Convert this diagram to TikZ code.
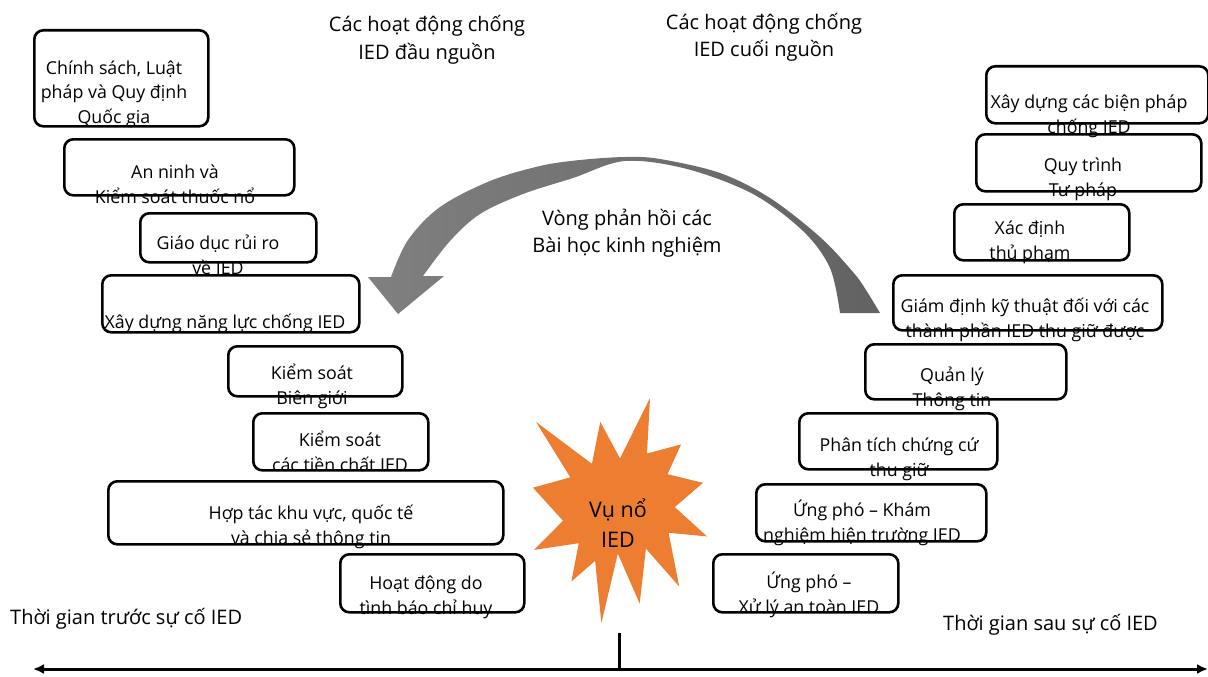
\documentclass[tikz,border=0pt]{standalone}
\usepackage{fontspec}
\setmainfont{Open Sans}
\usetikzlibrary{arrows.meta}
\definecolor{arrowlight}{RGB}{128,128,128}
\definecolor{arrowdark}{RGB}{98,98,98}
\definecolor{blast}{RGB}{237,125,49}
\begin{document}
\begin{tikzpicture}[x=1pt,y=-1pt,
  box/.style={draw=black, line width=2.6pt, rounded corners=9pt, inner sep=0pt, anchor=north west},
  boxtext/.style={font=\fontsize{17.8}{25}\selectfont, align=center, inner sep=0pt, anchor=base},
  titletext/.style={font=\fontsize{20}{27.5}\selectfont, align=center, inner sep=0pt, anchor=base},
  loopref/.style={font=\fontsize{20}{27}\selectfont, align=center, inner sep=0pt, anchor=base},
  axistext/.style={font=\fontsize{20}{24}\selectfont, inner sep=0pt, anchor=base west},
  axisline/.style={line width=3pt, {Latex[length=11pt,width=10pt]}-{Latex[length=11pt,width=10pt]}},
]
\useasboundingbox (0,0) rectangle (1208,677);
\fill[white] (0,0) rectangle (1208,677);

% titles (base anchor = last line baseline)
\node[titletext] (tup) at (427,59.5) {Các hoạt động chống\\IED đầu nguồn};
\node[titletext] (tdown) at (764,56.5) {Các hoạt động chống\\IED cuối nguồn};

% feedback loop arrow
\shade[left color=arrowlight, right color=arrowdark] plot[smooth, tension=0.55] coordinates {(880,313) (866,290) (853,272) (820,237) (770,198) (720,173) (660,159) (625,157) (580,160) (540,166) (490,181) (440,207) (408,240) (391,277)}
  -- (368,277) -- (398,314) -- (444,276) -- (423,276)
  -- plot[smooth, tension=0.55] coordinates {(423,276) (450,241) (480,214) (523,194) (573,178) (625,161) (687,169) (753,194) (803,231) (830,268) (840,313)}
  -- cycle;
\node[loopref] (loop) at (627,252) {Vòng phản hồi các\\Bài học kinh nghiệm};

% left (upstream) boxes
\node[box, minimum width=174, minimum height=96] (b1) at (33,29) {};
\node[boxtext] (t1) at (114,124) {Chính sách, Luật\\pháp và Quy định\\Quốc gia};
\node[box, minimum width=230, minimum height=56] (b2) at (63,138) {};
\node[boxtext] (t2) at (175,203) {An ninh và\\Kiểm soát thuốc nổ};
\node[box, minimum width=176, minimum height=49] (b3) at (139,212) {};
\node[boxtext] (t3) at (218,274) {Giáo dục rủi ro\\về IED};
\node[box, minimum width=257, minimum height=57] (b4) at (101,274) {};
\node[boxtext] (t4) at (225,328) {Xây dựng năng lực chống IED};
\node[box, minimum width=174, minimum height=50] (b5) at (227,345) {};
\node[boxtext] (t5) at (312,404) {Kiểm soát\\Biên giới};
\node[box, minimum width=175, minimum height=57] (b6) at (252,412) {};
\node[boxtext] (t6) at (340,471) {Kiểm soát\\các tiền chất IED};
\node[box, minimum width=395, minimum height=63] (b7) at (107,480) {};
\node[boxtext] (t7) at (311,544) {Hợp tác khu vực, quốc tế\\và chia sẻ thông tin};
\node[box, minimum width=184, minimum height=58] (b8) at (339,553) {};
\node[boxtext] (t8) at (426,614) {Hoạt động do\\tình báo chỉ huy};

% right (downstream) boxes
\node[box, minimum width=222, minimum height=57] (r1) at (985,65) {};
\node[boxtext] (s1) at (1089,133) {Xây dựng các biện pháp\\chống IED};
\node[box, minimum width=225, minimum height=57] (r2) at (975,133) {};
\node[boxtext] (s2) at (1083,196) {Quy trình\\Tư pháp};
\node[box, minimum width=175, minimum height=56] (r3) at (953,203) {};
\node[boxtext] (s3) at (1030,259) {Xác định\\thủ phạm};
\node[box, minimum width=269, minimum height=55] (r4) at (892,274) {};
\node[boxtext] (s4) at (1025,337) {Giám định kỹ thuật đối với các\\thành phần IED thu giữ được};
\node[box, minimum width=201, minimum height=55] (r5) at (864,343) {};
\node[boxtext] (s5) at (952,406) {Quản lý\\Thông tin};
\node[box, minimum width=198, minimum height=56] (r6) at (798,412) {};
\node[boxtext] (s6) at (899,476) {Phân tích chứng cứ\\thu giữ};
\node[box, minimum width=230, minimum height=57] (r7) at (755,483) {};
\node[boxtext] (s7) at (862,541) {Ứng phó – Khám\\nghiệm hiện trường IED};
\node[box, minimum width=185, minimum height=58] (r8) at (712,553) {};
\node[boxtext] (s8) at (809,613) {Ứng phó –\\Xử lý an toàn IED};

% explosion
\fill[blast] (620.0,458.4) -- (650.0,398.0) -- (647.0,453.5) -- (681.1,444.4) -- (667.5,474.2)
  -- (703.0,482.8) -- (674.8,507.1) -- (707.0,536.4) -- (668.6,532.8) -- (679.2,586.5)
  -- (645.9,548.6) -- (639.7,603.6) -- (617.8,553.6) -- (601.4,623.0) -- (595.1,560.8)
  -- (571.4,581.5) -- (578.7,543.2) -- (534.1,549.9) -- (563.0,520.7) -- (533.0,487.7)
  -- (570.3,477.3) -- (536.0,421.9) -- (591.9,463.8) -- (600.3,421.9) -- cycle;
\node[titletext, font=\fontsize{21.5}{30}\selectfont] (blasttext) at (618,547) {Vụ nổ\\IED};

% time axis
\coordinate (axL) at (33,669);
\coordinate (axR) at (1208,669);
\coordinate (tickTop) at (619,633);
\coordinate (tickBot) at (619,669);
\draw[axisline] (axL) -- (axR);
\draw[line width=3pt] (tickTop) -- (tickBot);
\node[axistext] (before) at (10,624) {Thời gian trước sự cố IED};
\node[axistext] (after) at (943,630) {Thời gian sau sự cố IED};
\end{tikzpicture}
\end{document}
